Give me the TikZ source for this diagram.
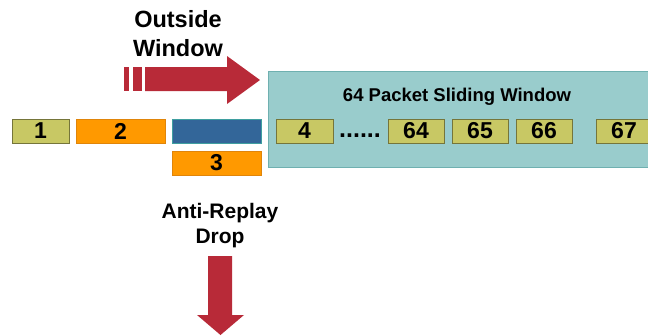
\documentclass[tikz,border=0pt]{standalone}
\usepackage{fontspec}
\setmainfont{Liberation Sans}
\definecolor{winfill}{HTML}{99CCCC}
\definecolor{winline}{HTML}{6FB0B0}
\definecolor{olivefill}{HTML}{C8C864}
\definecolor{oliveline}{HTML}{75753A}
\definecolor{orangefill}{HTML}{FF9900}
\definecolor{orangeline}{HTML}{E0850A}
\definecolor{bluefill}{HTML}{336699}
\definecolor{blueline}{HTML}{3F9FA0}
\definecolor{arrowred}{HTML}{B82A38}
\tikzset{
  pkt/.style={rectangle, draw, line width=0.9pt, minimum height=24pt, inner sep=0pt,
    font=\fontsize{23}{23}\selectfont\bfseries},
  oldpkt/.style={pkt, fill=olivefill, draw=oliveline},
  orgpkt/.style={pkt, fill=orangefill, draw=orangeline},
  blupkt/.style={pkt, fill=bluefill, draw=blueline},
  caption/.style={align=center, font=\bfseries, inner sep=0pt},
  bigarrow/.style={fill=arrowred, draw=none}
}
\begin{document}
\begin{tikzpicture}[x=1pt,y=-1pt]
\useasboundingbox (0,0) rectangle (648,335);
\begin{scope}
\clip (0,0) rectangle (648,335);
% sliding window
\node[rectangle, fill=winfill, draw=winline, line width=0.9pt, minimum width=382pt,
  minimum height=96pt, anchor=north west, inner sep=0pt] (win) at (268,71) {};
\node[caption, font=\fontsize{18.5}{18.5}\selectfont\bfseries] (wtitle) at (457,97) {64 Packet Sliding Window};
% packets
\node[oldpkt, minimum width=57pt] (p1) at (40.5,131) {1};
\node[orgpkt, minimum width=89pt] (p2) at (120.5,131) {2};
\node[blupkt, minimum width=89pt] (pb) at (216.5,131) {};
\node[orgpkt, minimum width=89pt] (p3) at (216.5,163) {3};
\node[oldpkt, minimum width=57pt] (p4) at (304.5,131) {4};
\node[caption, font=\fontsize{25}{25}\selectfont\bfseries] (dots) at (360,136) {......};
\node[oldpkt, minimum width=56pt] (p64) at (416,131) {64};
\node[oldpkt, minimum width=56pt] (p65) at (480,131) {65};
\node[oldpkt, minimum width=56pt] (p66) at (544,131) {66};
\node[oldpkt, minimum width=56pt] (p67) at (624,131) {67};
\end{scope}
% outside window arrow
\node[caption, font=\fontsize{23.5}{29}\selectfont\bfseries] (outl) at (178,34) {Outside\\Window};
\coordinate (rtip) at (260,80);
\fill[bigarrow] (124,67) rectangle (129,91);
\fill[bigarrow] (133,67) rectangle (142,91);
\fill[bigarrow] (145,67) -- (227,67) -- (227,56) -- (rtip) -- (227,104) -- (227,91) -- (145,91) -- cycle;
% anti-replay drop arrow
\node[caption, font=\fontsize{21}{25}\selectfont\bfseries] (dropl) at (220,226) {Anti-Replay\\Drop};
\coordinate (dtip) at (220.5,335);
\fill[bigarrow] (208,256) -- (232,256) -- (232,315) -- (244,315) -- (dtip) -- (197,315) -- (208,315) -- cycle;
\end{tikzpicture}
\end{document}
